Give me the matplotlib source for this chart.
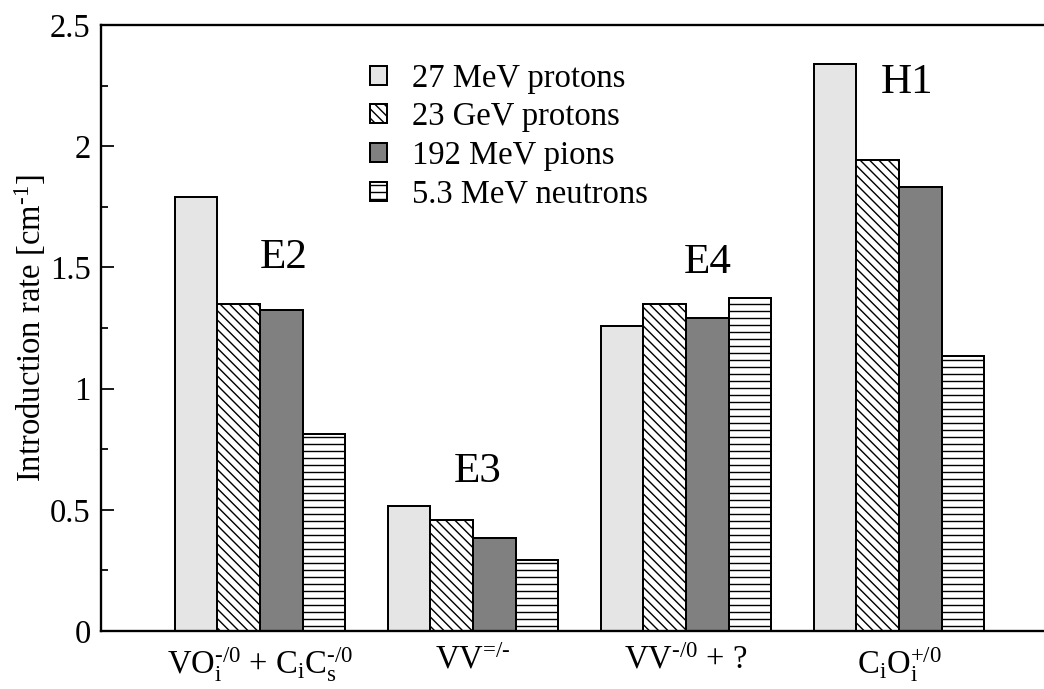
import numpy as np
import matplotlib
matplotlib.use('Agg')
import matplotlib.pyplot as plt

plt.rcParams['font.family'] = 'Liberation Serif'
plt.rcParams['mathtext.fontset'] = 'custom'
plt.rcParams['mathtext.rm'] = 'Liberation Serif'
plt.rcParams['mathtext.it'] = 'Liberation Serif:italic'
plt.rcParams['hatch.linewidth'] = 1.2

# defect assignments (x categories) and level names
defects = [r'VO$_\mathrm{i}^{\text{-/0}}$ + C$_\mathrm{i}$C$_\mathrm{s}^{\text{-/0}}$',
           r'VV$^{\text{=/-}}$',
           r'VV$^{\text{-/0}}$ + ?',
           r'C$_\mathrm{i}$O$_\mathrm{i}^{\text{+/0}}$']
levels = ['E2', 'E3', 'E4', 'H1']

series = ['27 MeV protons', '23 GeV protons', '192 MeV pions', '5.3 MeV neutrons']
p27 = [1.79, 0.517, 1.258, 2.34]
p23 = [1.349, 0.458, 1.349, 1.945]
pi192 = [1.324, 0.384, 1.291, 1.83]
n53 = [0.814, 0.293, 1.375, 1.135]

# where the level names sit (x offset from group, y value)
lvl_x = [0.113, 1.02, 2.10, 3.04]
lvl_y = [1.54, 0.655, 1.52, 2.26]

dpi = 84
fig = plt.figure(figsize=(1044 / dpi, 689 / dpi), dpi=dpi)
ax = fig.add_axes([101 / 1044, 58 / 689, 953 / 1044, 606 / 689])

x = np.arange(len(defects))
w = 0.2
styles = [dict(color='#e5e5e5', hatch=None),
          dict(color='white', hatch='\\\\\\'),
          dict(color='#808080', hatch=None),
          dict(color='white', hatch='--')]
for i, (vals, lab) in enumerate(zip([p27, p23, pi192, n53], series)):
    ax.bar(x + (i - 1.5) * w, vals, w, label=lab, edgecolor='black',
           linewidth=1.7, **styles[i])

for xi, yi, t in zip(lvl_x, lvl_y, levels):
    ax.text(xi, yi, t, fontsize=37, ha='center', va='center')

ax.set_xlim(-0.746, 3.728)
ax.set_ylim(0, 2.5)
ax.set_xticks(x)
ax.set_xticklabels(defects, fontsize=28)
ax.set_yticks([0, 0.5, 1, 1.5, 2, 2.5])
ax.set_yticklabels(['0', '0.5', '1', '1.5', '2', '2.5'], fontsize=28)
ax.set_yticks(np.arange(0.25, 2.5, 0.5), minor=True)
ax.tick_params(axis='x', length=0, pad=12)
ax.tick_params(axis='y', which='major', direction='in', length=11, width=1.5, pad=9)
ax.tick_params(axis='y', which='minor', direction='in', length=6, width=1.5)
ax.set_ylabel(r'Introduction rate [cm$^{\text{-1}}$]', fontsize=28)
ax.yaxis.set_label_coords(-0.056, 0.5)

for s in ['left', 'bottom', 'top']:
    ax.spines[s].set_linewidth(2.0)
ax.spines['right'].set_visible(False)

ax.legend(loc='upper left', bbox_to_anchor=(0.282, 0.937), frameon=False,
          fontsize=28, handlelength=0.52, handleheight=0.52,
          handletextpad=0.76, labelspacing=0.25, borderpad=0, borderaxespad=0)

fig.savefig('out.png', dpi=dpi)
